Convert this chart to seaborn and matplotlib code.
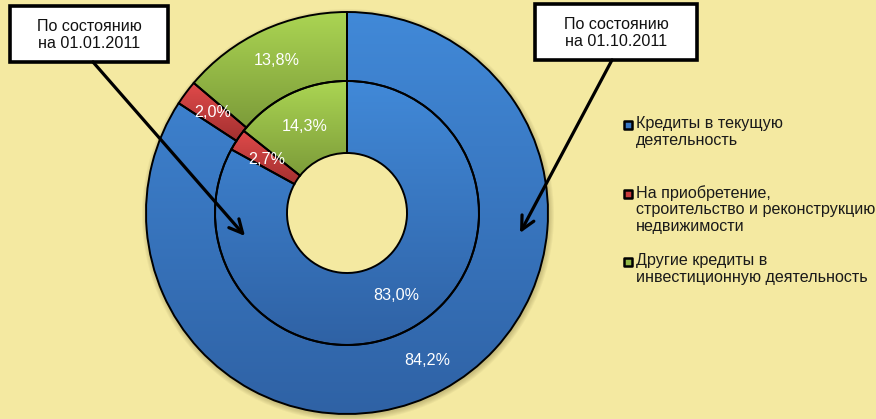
import numpy as np
import seaborn as sns
import matplotlib.pyplot as plt
from matplotlib.colors import LinearSegmentedColormap
from matplotlib.patches import Rectangle, Circle

# === Data ===
legend_labels = [
    "Кредиты в текущую\nдеятельность",
    "На приобретение,\nстроительство и реконструкцию\nнедвижимости",
    "Другие кредиты в\nинвестиционную деятельность",
]
outer_values = [84.2, 2.0, 13.8]   # по состоянию на 01.10.2011
inner_values = [83.0, 2.7, 14.3]   # по состоянию на 01.01.2011
box_outer = "По состоянию\nна 01.10.2011"
box_inner = "По состоянию\nна 01.01.2011"

# light (top) / dark (bottom) colours of each slice
light_colors = ["#4189d8", "#e04a4a", "#abd553"]
dark_colors = ["#2f62a5", "#a33030", "#7c9b39"]
mid_colors = ["#3a78c4", "#c83c3c", "#93b846"]
bg = "#f4e9a1"

sns.set_style("white")
plt.rcParams['font.family'] = ['Liberation Sans', 'DejaVu Sans']

fig = plt.figure(figsize=(8.76, 4.19), dpi=100, facecolor=bg)
ax = fig.add_axes([0, 0, 1, 1])
ax.set_facecolor(bg)

H = 419
center = (347, H - 213)
r_out, r_mid, r_in = 201, 132, 60
fs = 11.6


def pct_fmt(p):
    return f"{p:.1f}%".replace(".", ",")


def add_gradient(wedges):
    for w, c1, c2 in zip(wedges, light_colors, dark_colors):
        x0, y0, x1, y1 = w.get_path().get_extents().extents
        cmap = LinearSegmentedColormap.from_list("g", [c2, c1])
        grad = np.linspace(0, 1, 256).reshape(-1, 1)
        im = ax.imshow(grad, extent=(x0, x1, y0, y1), origin="lower",
                       cmap=cmap, aspect="auto", zorder=1)
        im.set_clip_path(w)
        w.set_zorder(2)


# soft shadow under the outer ring
for k in range(6):
    ax.add_patch(Circle((center[0] + 1, center[1] - 2), r_out + 5 - k,
                        facecolor="#6b5a2a", edgecolor="none", alpha=0.06,
                        zorder=0.5))

wp = dict(edgecolor="black", linewidth=1.4, facecolor="none")
outer, _, outer_txt = ax.pie(outer_values, radius=r_out, center=center,
                             startangle=90, counterclock=False,
                             autopct=pct_fmt, pctdistance=0.835,
                             wedgeprops=dict(width=r_out - r_mid, **wp),
                             textprops=dict(color="white", fontsize=fs))
inner, _, inner_txt = ax.pie(inner_values, radius=r_mid, center=center,
                             startangle=90, counterclock=False,
                             autopct=pct_fmt, pctdistance=0.73,
                             wedgeprops=dict(width=r_mid - r_in, **wp),
                             textprops=dict(color="white", fontsize=fs))
add_gradient(outer)
add_gradient(inner)
# hole keeps the background colour
ax.add_patch(Circle(center, r_in, facecolor=bg, edgecolor="none", zorder=0.8))
for t in list(outer_txt) + list(inner_txt):
    t.set_zorder(4)

ax.set_xlim(0, 876)
ax.set_ylim(0, H)
ax.set_aspect("equal")
ax.axis("off")

# === Callout boxes with arrows ===
ax.add_patch(Rectangle((10, H - 62), 158, 56, facecolor="white",
                       edgecolor="black", linewidth=2.6, zorder=5))
ax.text(89, H - 35, box_inner, ha="center", va="center", fontsize=fs,
        color="#111111", linespacing=1.2, zorder=6)
ax.add_patch(Rectangle((535, H - 60), 162, 56, facecolor="white",
                       edgecolor="black", linewidth=2.6, zorder=5))
ax.text(616, H - 33, box_outer, ha="center", va="center", fontsize=fs,
        color="#111111", linespacing=1.2, zorder=6)

arrow = dict(arrowstyle="->", lw=2.3, color="black", mutation_scale=24,
             shrinkA=0, shrinkB=0)
ax.annotate("", xy=(245, H - 236), xytext=(93, H - 62), arrowprops=arrow,
            zorder=6)
ax.annotate("", xy=(520, H - 233), xytext=(612, H - 60), arrowprops=arrow,
            zorder=6)

# === Legend (marker on the first line of each entry) ===
legend_y = [125, 194, 262]
for lab, c, y in zip(legend_labels, mid_colors, legend_y):
    ax.scatter([628], [H - y], marker="s", s=36, color=c,
               edgecolor="black", linewidth=1.8, zorder=6)
    ax.text(636, H - y + 9, lab, ha="left", va="top", fontsize=fs,
            color="#1a1a1a", linespacing=1.13, zorder=6)

plt.savefig("out.png", dpi=100, facecolor=bg)
